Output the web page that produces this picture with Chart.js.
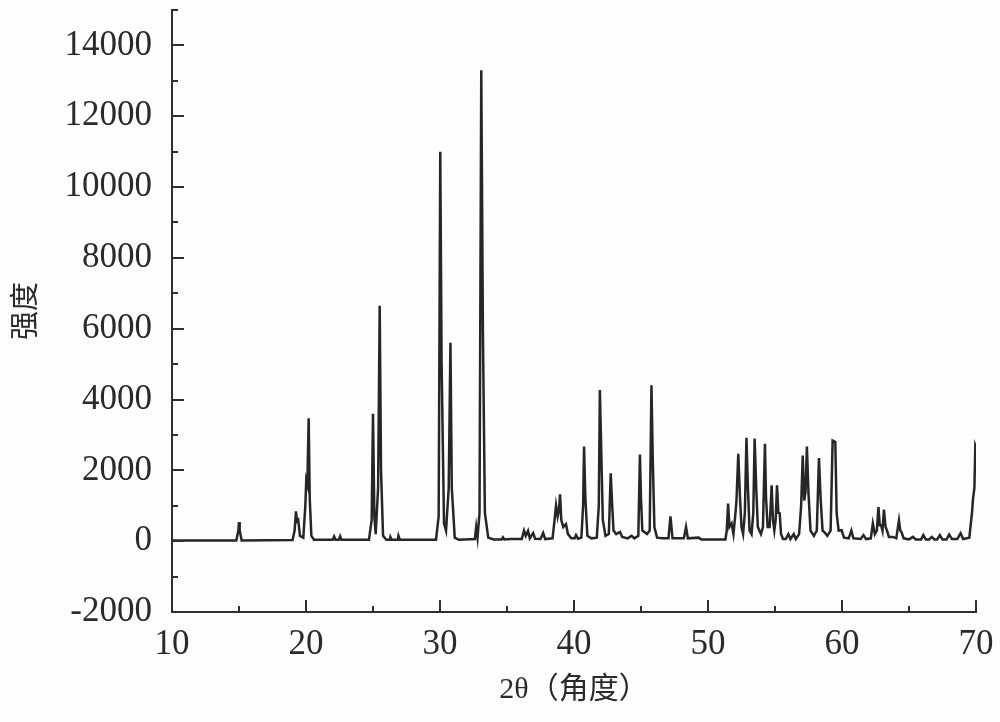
<!DOCTYPE html>
<html>
<head>
<meta charset="utf-8">
<script src="https://cdn.jsdelivr.net/npm/chart.js@4/dist/chart.umd.min.js"></script>
<style>
  html, body { margin: 0; padding: 0; background: #fdfdfd; }
</style>
</head>
<body>
<canvas id="grafico" width="1000" height="722"></canvas>
<script>
const angulos = [
  10.0, 14.8, 14.95, 15.0, 15.05, 15.2, 19.0, 19.15, 19.25, 19.33, 19.42, 19.55, 19.8, 19.95, 20.02, 20.1, 20.2, 20.28, 20.4, 20.6,
  22.0, 22.1, 22.2, 22.45, 22.55, 22.65, 24.7, 24.9, 25.0, 25.1, 25.2, 25.38, 25.5, 25.6, 25.75, 26.0, 26.25, 26.3, 26.4, 26.85, 26.9, 27.0,
  29.7, 29.9, 30.02, 30.12, 30.3, 30.45, 30.65, 30.78, 30.88, 31.1, 31.4, 32.6, 32.7, 32.8, 32.95, 33.08, 33.2, 33.35, 33.6, 34.0, 34.6, 34.7, 34.8, 35.3,
  36.1, 36.27, 36.4, 36.57, 36.7, 36.95, 37.1, 37.5, 37.7, 37.85, 38.4, 38.55, 38.66, 38.78, 38.88, 38.96, 39.05, 39.2, 39.4, 39.55, 39.8,
  40.05, 40.15, 40.3, 40.55, 40.68, 40.75, 40.85, 41.0, 41.3, 41.7, 41.85, 41.93, 42.05, 42.15, 42.35, 42.6, 42.74, 42.85, 42.95, 43.15, 43.43, 43.6, 44.0, 44.3, 44.5,
  44.8, 44.92, 45.0, 45.1, 45.45, 45.65, 45.78, 45.88, 46.0, 46.2, 46.6, 47.05, 47.2, 47.35, 48.2, 48.36, 48.5, 49.3, 49.5, 51.3,
  51.4, 51.5, 51.6, 51.76, 51.9, 52.05, 52.12, 52.26, 52.38, 52.5, 52.62, 52.75, 52.87, 52.98, 53.1, 53.25, 53.38, 53.48, 53.6, 53.72,
  53.95, 54.1, 54.25, 54.33, 54.45, 54.6, 54.75, 54.85, 54.95, 55.05, 55.15, 55.25, 55.35, 55.45, 55.6, 55.8, 56.0, 56.15, 56.4, 56.55,
  56.8, 56.95, 57.07, 57.18, 57.28, 57.38, 57.5, 57.65, 57.9, 58.12, 58.28, 58.4, 58.55, 58.7, 58.9, 59.15, 59.3, 59.5, 59.6, 59.75, 59.97, 60.15, 60.5, 60.7, 60.85, 61.4, 61.6, 61.8,
  62.15, 62.3, 62.45, 62.6, 62.72, 62.82, 62.92, 63.02, 63.13, 63.25, 63.35, 63.5, 63.8, 64.05, 64.25, 64.35, 64.45, 64.6, 65.0, 65.3, 65.5,
  65.9, 66.07, 66.25, 66.5, 66.7, 66.9, 67.1, 67.3, 67.5, 67.8, 68.0, 68.2, 68.6, 68.85, 69.05, 69.5, 69.7, 69.78, 69.88, 69.95, 70.0
];
const intensidades = [
  20, 20, 300, 540, 300, 20, 30, 300, 840, 560, 600, 150, 100, 1000, 1720, 1600, 3470, 1200, 150, 40,
  40, 130, 40, 40, 140, 40, 40, 600, 3600, 700, 200, 1500, 6650, 2000, 150, 40, 40, 120, 40, 40, 150, 40,
  40, 700, 11000, 5000, 500, 300, 1500, 5600, 1500, 100, 40, 60, 400, 100, 800, 13300, 6000, 800, 100, 50, 50, 110, 50, 60,
  60, 300, 150, 290, 80, 230, 70, 60, 230, 60, 80, 600, 1010, 700, 900, 1320, 600, 400, 480, 200, 80,
  80, 170, 70, 100, 1000, 2670, 1200, 150, 80, 100, 1000, 4270, 2280, 600, 150, 200, 1920, 1000, 300, 200, 260, 120, 80, 150, 80,
  150, 2450, 1200, 300, 200, 300, 4400, 2280, 400, 100, 80, 80, 700, 80, 80, 400, 80, 100, 50, 50,
  300, 1060, 400, 500, 200, 800, 1100, 2470, 1300, 400, 200, 800, 2920, 1500, 300, 200, 800, 2900, 1490, 400,
  200, 400, 2750, 1240, 400, 400, 1575, 600, 300, 600, 1575, 800, 790, 200, 60, 60, 200, 60, 200, 60,
  200, 1000, 2420, 1150, 1400, 2670, 1350, 300, 150, 300, 2350, 1240, 300, 250, 150, 300, 2840, 2800, 790, 300, 310, 100, 80, 300, 80, 60, 170, 60,
  80, 500, 200, 300, 965, 450, 450, 300, 890, 400, 310, 120, 120, 80, 590, 300, 250, 80, 50, 120, 50,
  50, 170, 50, 50, 120, 50, 50, 170, 50, 50, 190, 60, 60, 225, 60, 100, 800, 1200, 1500, 2700, 2650
];

const ticksX = [10, 20, 30, 40, 50, 60, 70];
const menoresX = [15, 25, 35, 45, 55, 65];
const ticksY = [-2000, 0, 2000, 4000, 6000, 8000, 10000, 12000, 14000];
const menoresY = [-1000, 1000, 3000, 5000, 7000, 9000, 11000, 13000, 15000];

const fuenteNum = "'Liberation Serif', 'Times New Roman', serif";
const fuenteTitulo = "'Liberation Serif', 'Noto Sans CJK SC', serif";

// marcas de los ejes hacia dentro
const marcasInternas = {
  id: "marcasInternas",
  afterDraw(chart) {
    const { ctx, chartArea, scales } = chart;
    const x = scales.x, y = scales.y;
    ctx.save();
    ctx.strokeStyle = "#2f2f2f";
    ctx.lineWidth = 2;
    ctx.beginPath();
    ticksX.forEach((v) => {
      const px = Math.round(x.getPixelForValue(v));
      ctx.moveTo(px, chartArea.bottom);
      ctx.lineTo(px, chartArea.bottom - 12);
    });
    menoresX.forEach((v) => {
      const px = Math.round(x.getPixelForValue(v));
      ctx.moveTo(px, chartArea.bottom);
      ctx.lineTo(px, chartArea.bottom - 6);
    });
    ticksY.forEach((v) => {
      const py = Math.round(y.getPixelForValue(v));
      ctx.moveTo(chartArea.left, py);
      ctx.lineTo(chartArea.left + 12, py);
    });
    menoresY.forEach((v) => {
      const py = Math.round(y.getPixelForValue(v));
      ctx.moveTo(chartArea.left, py);
      ctx.lineTo(chartArea.left + 6, py);
    });
    ctx.stroke();
    ctx.restore();
  }
};

const data = {
  datasets: [
    {
      label: "XRD",
      data: angulos.map((a, i) => ({ x: a, y: intensidades[i] })),
      borderColor: "#262626",
      borderWidth: 2.5,
      pointRadius: 0,
      tension: 0,
      fill: false,
    },
  ],
};

const config = {
  type: "line",
  data,
  options: {
    responsive: false,
    animation: false,
    layout: { padding: { top: 10, right: 24, left: 0, bottom: 0 } },
    plugins: {
      legend: { display: false },
      tooltip: { enabled: false },
    },
    scales: {
      x: {
        type: "linear",
        min: 10,
        max: 70,
        afterBuildTicks: (scale) => { scale.ticks = ticksX.map((v) => ({ value: v })); },
        afterFit: (scale) => {
          scale.height = 110;
          scale.paddingLeft = 0;
          scale.paddingRight = 0;
        },
        grid: { display: false },
        border: { display: true, color: "#2f2f2f", width: 2 },
        ticks: {
          padding: 4,
          color: "#2a2a2a",
          font: { family: fuenteNum, size: 35 },
          maxRotation: 0,
        },
        title: {
          display: true,
          text: "2θ（角度）",
          color: "#2a2a2a",
          font: { family: fuenteTitulo, size: 30 },
          padding: { top: 0, bottom: 14 },
        },
      },
      y: {
        type: "linear",
        min: -2000,
        max: 15000,
        afterBuildTicks: (scale) => { scale.ticks = ticksY.map((v) => ({ value: v })); },
        afterFit: (scale) => {
          scale.width = 172;
          scale.paddingTop = 0;
          scale.paddingBottom = 0;
        },
        grid: { display: false },
        border: { display: true, color: "#2f2f2f", width: 2 },
        ticks: {
          padding: 12,
          color: "#2a2a2a",
          font: { family: fuenteNum, size: 35 },
          callback: (v) => String(v),
        },
        title: {
          display: true,
          text: "强度",
          color: "#2a2a2a",
          font: { family: "'Noto Sans CJK SC', sans-serif", size: 29 },
          padding: { top: 7, bottom: 0 },
        },
      },
    },
  },
  plugins: [marcasInternas],
};

const canvas = document.getElementById("grafico");
const ctx = canvas.getContext("2d");
const miGrafico = new Chart(ctx, config);
</script>
</body>
</html>
